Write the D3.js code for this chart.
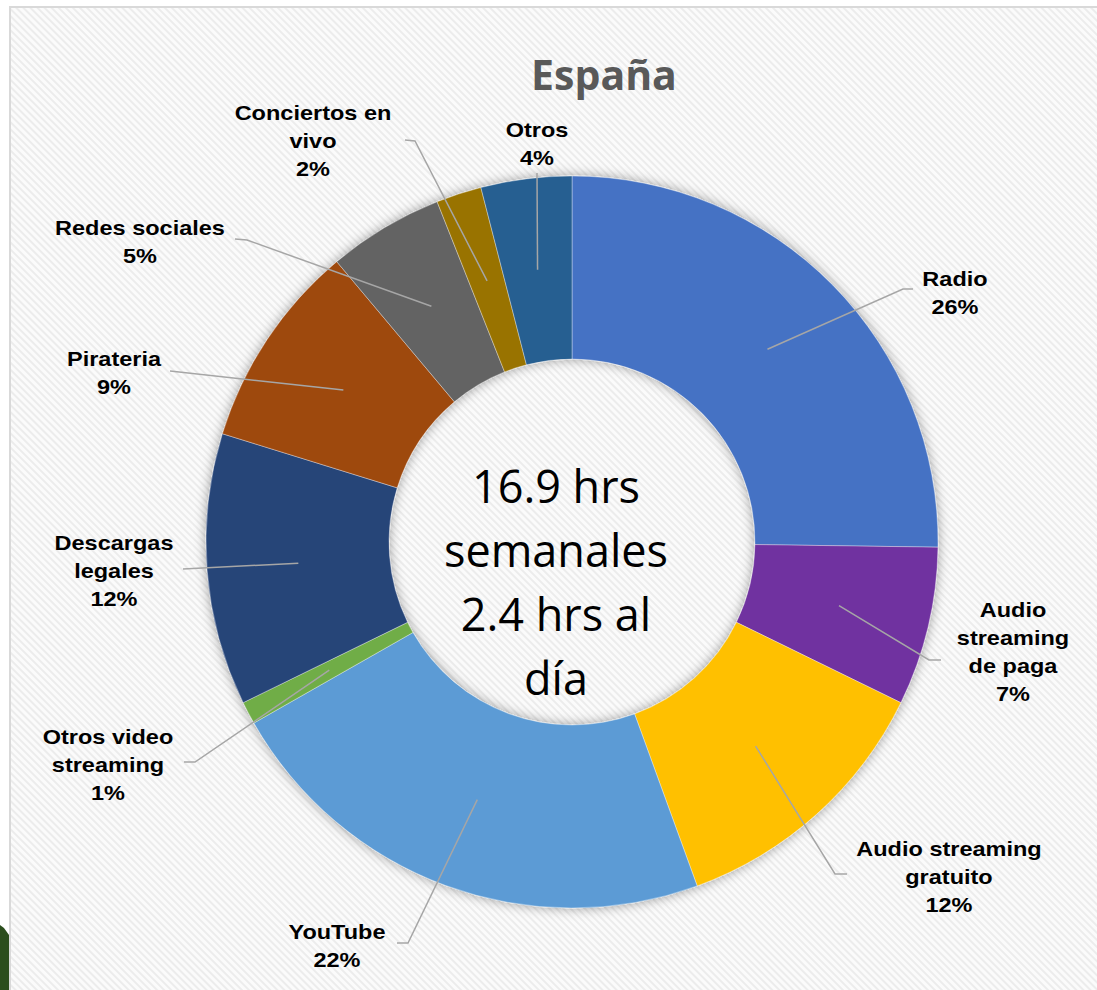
<!DOCTYPE html>
<html>
<head>
<meta charset="utf-8">
<script src="https://cdn.jsdelivr.net/npm/d3@7"></script>
<style>
  body { margin: 0; background: #ffffff; }
  svg { display: block; }
</style>
</head>
<body>
<div id="chart"></div>
<script>

// ---- data ----
var categories = ["Radio", "Audio streaming de paga", "Audio streaming gratuito", "YouTube",
                  "Otros video streaming", "Descargas legales", "Pirateria", "Redes sociales",
                  "Conciertos en vivo", "Otros"];
// slice sizes as measured from the ring
var shares = [25.2, 7.0, 12.2, 22.3, 1.0, 12.0, 9.1, 5.1, 2.0, 4.0];
// percentages as printed on the labels
var pctLabels = [26, 7, 12, 22, 1, 12, 9, 5, 2, 4];
var labelLines = [["Radio"], ["Audio", "streaming", "de paga"], ["Audio streaming", "gratuito"], ["YouTube"],
                  ["Otros video", "streaming"], ["Descargas", "legales"], ["Pirateria"], ["Redes sociales"],
                  ["Conciertos en", "vivo"], ["Otros"]];
var centerText = ["16.9 hrs", "semanales", "2.4 hrs al", "día"];
var title = "España";

var colors = ["#4472C4", "#7030A0", "#FFC000", "#5B9BD5", "#70AD47",
              "#264478", "#9E480E", "#636363", "#997300", "#255E91"];

// label layout: x centre, first baseline, leader line points from label towards slice
var labelPos = [
  {x: 955,  y: 286, line: [[913, 289], [903, 289]]},
  {x: 1013, y: 617, line: [[941, 660], [929, 660]]},
  {x: 949,  y: 856, line: [[847, 874], [835, 874]]},
  {x: 337,  y: 939, line: [[397, 943], [408, 943]]},
  {x: 108,  y: 744, line: [[184, 762], [195, 762]]},
  {x: 114,  y: 550, line: [[183, 569]]},
  {x: 114,  y: 366, line: [[170, 371]]},
  {x: 140,  y: 235, line: [[235, 239], [247, 240]]},
  {x: 313,  y: 120, line: [[405, 140], [415, 141]]},
  {x: 537,  y: 137, line: [[537, 173]]}
];

var W = 1097, H = 990;
var cx = 572, cy = 542;
var outerR = 366, innerR = 183;
var lineH = 28;

var svg = d3.select("#chart").append("svg").attr("width", W).attr("height", H);
var defs = svg.append("defs");

// light diagonal hatch background
var pat = defs.append("pattern")
    .attr("id", "hatch").attr("patternUnits", "userSpaceOnUse")
    .attr("width", 5).attr("height", 5)
    .attr("patternTransform", "rotate(-45)");
pat.append("rect").attr("width", 5).attr("height", 5).attr("fill", "#fbfbfb");
pat.append("rect").attr("width", 2).attr("height", 5).attr("fill", "#ececec");

var shadow = defs.append("filter").attr("id", "shadow")
    .attr("x", "-20%").attr("y", "-20%").attr("width", "140%").attr("height", "140%");
shadow.append("feDropShadow").attr("dx", 0).attr("dy", 0).attr("stdDeviation", 6)
    .attr("flood-color", "#000").attr("flood-opacity", 0.38);

// frame
svg.append("rect").attr("x", 10).attr("y", 7).attr("width", W).attr("height", H)
    .attr("fill", "url(#hatch)").attr("stroke", "#d9d9d9").attr("stroke-width", 2);

// green corner piece (slide background)
svg.append("path").attr("d", "M0,925 L4,928 L9,935 L9,990 L0,990 Z").attr("fill", "#2b4d1d");

// title
svg.append("text").attr("x", 604).attr("y", 90)
    .attr("text-anchor", "middle")
    .style("font-family", "'Open Sans', sans-serif").style("font-weight", 700)
    .style("font-size", "41px").style("fill", "#595959")
    .text(title);

// ---- donut ----
var pie = d3.pie().sort(null).value(function(d) { return d; });
var arcs = pie(shares);
var arc = d3.arc().innerRadius(innerR).outerRadius(outerR);

var g = svg.append("g").attr("transform", "translate(" + cx + "," + cy + ")");

g.append("g").attr("filter", "url(#shadow)")
  .selectAll("path").data(arcs).enter()
  .append("path")
    .attr("d", arc)
    .attr("fill", function(d, i) { return colors[i]; })
    .attr("stroke", "#ffffff").attr("stroke-width", 0.6).attr("stroke-opacity", 0.6);

// leader lines
svg.append("g").selectAll("polyline").data(arcs).enter()
  .append("polyline")
    .attr("points", function(d, i) {
        var c = arc.centroid(d);
        var pts = labelPos[i].line.concat([[cx + c[0], cy + c[1]]]);
        return pts.map(function(p) { return p.join(","); }).join(" ");
    })
    .attr("fill", "none").attr("stroke", "#a6a6a6").attr("stroke-width", 1.5);

// labels
var labels = svg.append("g").selectAll("text").data(arcs).enter()
  .append("text")
    .attr("transform", function(d, i) {
        return "translate(" + labelPos[i].x + "," + labelPos[i].y + ") scale(1.12,1)";
    })
    .attr("text-anchor", "middle")
    .style("font-family", "'Liberation Sans', Arial, sans-serif")
    .style("font-weight", 700).style("font-size", "21px").style("fill", "#000");

labels.each(function(d, i) {
    var t = d3.select(this);
    var rows = labelLines[i].concat([pctLabels[i] + "%"]);
    rows.forEach(function(r, k) {
        t.append("tspan").attr("x", 0).attr("y", k * lineH).text(r);
    });
});

// centre text
var ct = svg.append("text")
    .attr("text-anchor", "middle")
    .style("font-family", "'Open Sans', sans-serif")
    .style("font-size", "45px").style("fill", "#000");
centerText.forEach(function(s, k) {
    ct.append("tspan").attr("x", 556).attr("y", 503 + k * 64).text(s);
});

</script>
</body>
</html>
